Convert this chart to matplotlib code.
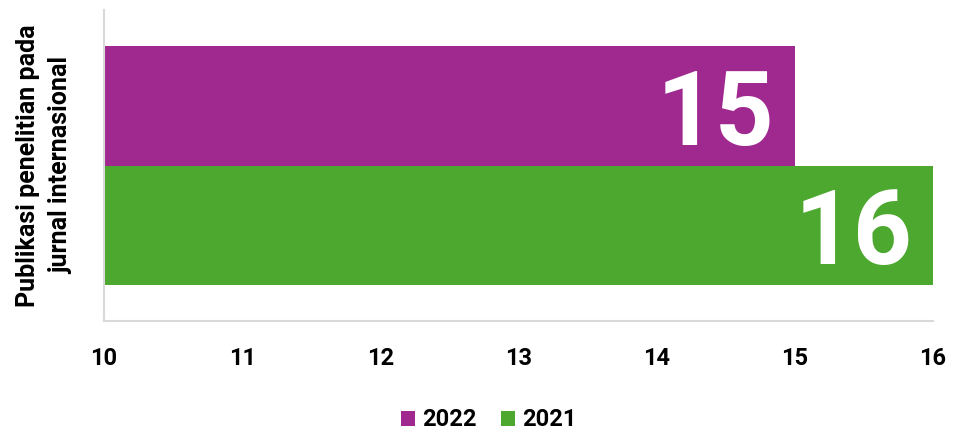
import numpy as np
import matplotlib.pyplot as plt

category = "Publikasi penelitian pada\njurnal internasional"
years = ["2022", "2021"]
values = [15, 16]
colors = ["#A0298F", "#4CA82E"]
xticks = [10, 11, 12, 13, 14, 15, 16]

fam = ["Roboto", "DejaVu Sans"]

fig = plt.figure(figsize=(9.58, 4.37), dpi=100)
ax = fig.add_axes([0.1086, 0.2654, 0.8653, 0.7117])

bar_h = 0.385
offsets = [bar_h / 2, -bar_h / 2]
for yr, v, c, off in zip(years, values, colors, offsets):
    ax.barh(off, v - 10, left=10, height=bar_h, color=c, label=yr)
    ax.text(v - 0.145, off, str(v), color="white", fontsize=74, fontweight="bold",
            family=fam, ha="right", va="center_baseline")

ax.set_xlim(10, 16)
ax.set_ylim(-0.5, 0.5)
ax.set_xticks(xticks)
ax.set_xticklabels([str(t) for t in xticks], fontsize=17, fontweight="bold", family=fam)
ax.tick_params(axis="x", length=0, pad=19)
ax.set_yticks([])
ax.set_ylabel(category, fontsize=18, fontweight="bold", family=fam,
              labelpad=22, linespacing=1.5)

for s in ["top", "right"]:
    ax.spines[s].set_visible(False)
for s in ["left", "bottom"]:
    ax.spines[s].set_color("#D9D9D9")
    ax.spines[s].set_linewidth(1.5)

leg = ax.legend(loc="center", bbox_to_anchor=(0.464, -0.318), ncol=2, frameon=False,
                handlelength=0.6, handleheight=0.6, handletextpad=0.3, columnspacing=1.0,
                prop={"family": fam, "weight": "bold", "size": 17})

fig.savefig("out.png", dpi=100)
